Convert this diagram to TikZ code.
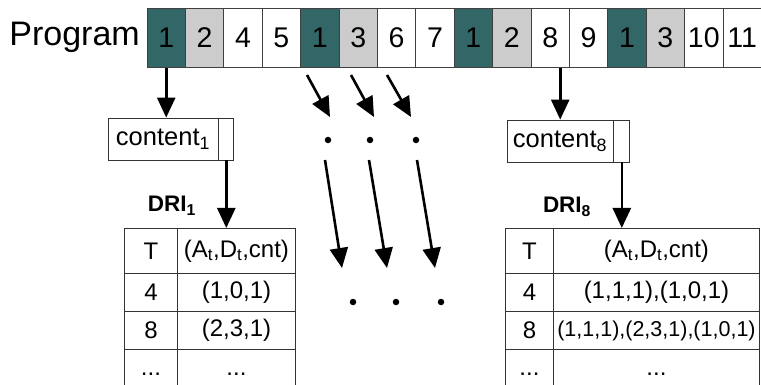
\documentclass[tikz,border=0pt]{standalone}
\usepackage{fontspec}
\setmainfont{Liberation Sans}
\usetikzlibrary{arrows.meta}
\definecolor{teal1}{RGB}{51,102,102}
\definecolor{lgray}{RGB}{204,204,204}
\begin{document}
\begin{tikzpicture}[x=1pt,y=-1pt,
 cell/.style={draw=black!75,line width=0.8pt,minimum width=38.4pt,minimum height=59.5pt,inner sep=0pt,font=\fontsize{28.5}{30}\selectfont},
 arr/.style={line width=2.6pt,-{Triangle[length=20pt,width=18pt]}},
 box/.style={draw=black!80,line width=0.8pt,inner sep=0pt,minimum height=42pt,font=\fontsize{25.5}{27}\selectfont},
 tcell/.style={draw=black!80,line width=0.9pt,inner sep=0pt,anchor=north west,font=\fontsize{24}{26}\selectfont},
 dri/.style={font=\bfseries\fontsize{22.5}{24}\selectfont},
 dot/.style={circle,fill=black,inner sep=0pt,minimum size=6.5pt}]
\useasboundingbox (0,0) rectangle (761,385);
% program bar
\node[font=\fontsize{34}{36}\selectfont,anchor=base east,inner sep=0pt] (prog) at (140,46) {Program};
\foreach \t/\c [count=\i] in {1/teal1,2/lgray,4/white,5/white,1/teal1,3/lgray,6/white,7/white,1/teal1,2/lgray,8/white,9/white,1/teal1,3/lgray,10/white,11/white}
  \node[cell,fill=\c] (c\i) at ({147+(\i-0.5)*38.4},37.75) {\t};
% content boxes
\node[box,minimum width=110pt] (cont1) at (163,139) {content\textsubscript{1}};
\node[box,minimum width=15pt,anchor=west] (cs1) at (cont1.east) {};
\node[box,minimum width=106pt] (cont8) at (560,141) {content\textsubscript{8}};
\node[box,minimum width=16pt,anchor=west] (cs8) at (cont8.east) {};
% DRI labels
\node[dri] (dri1) at (172,206) {DRI\textsubscript{1}};
\node[dri] (dri8) at (567,207) {DRI\textsubscript{8}};
% table 1
\node[tcell,minimum width=53pt,minimum height=45pt] (a11) at (124,228) {T};
\node[tcell,minimum width=118pt,minimum height=45pt] (a12) at (177,228) {(A\textsubscript{t},D\textsubscript{t},cnt)};
\node[tcell,minimum width=53pt,minimum height=38pt] (a21) at (124,273) {4};
\node[tcell,minimum width=118pt,minimum height=38pt] (a22) at (177,273) {(1,0,1)};
\node[tcell,minimum width=53pt,minimum height=38pt] (a31) at (124,311) {8};
\node[tcell,minimum width=118pt,minimum height=38pt] (a32) at (177,311) {(2,3,1)};
\node[tcell,minimum width=53pt,minimum height=50pt] (a41) at (124,349) {...};
\node[tcell,minimum width=118pt,minimum height=50pt] (a42) at (177,349) {...};
% table 8
\node[tcell,minimum width=48pt,minimum height=45pt] (b11) at (505,228) {T};
\node[tcell,minimum width=206pt,minimum height=45pt] (b12) at (553,228) {(A\textsubscript{t},D\textsubscript{t},cnt)};
\node[tcell,minimum width=48pt,minimum height=38pt] (b21) at (505,273) {4};
\node[tcell,minimum width=206pt,minimum height=38pt] (b22) at (553,273) {(1,1,1),(1,0,1)};
\node[tcell,minimum width=48pt,minimum height=38pt] (b31) at (505,311) {8};
\node[tcell,minimum width=206pt,minimum height=38pt,font=\fontsize{21.5}{24}\selectfont] (b32) at (553,311) {(1,1,1),(2,3,1),(1,0,1)};
\node[tcell,minimum width=48pt,minimum height=50pt] (b41) at (505,349) {...};
\node[tcell,minimum width=206pt,minimum height=50pt] (b42) at (553,349) {...};
% arrows to content and tables
\draw[arr] (c1.south) -- (c1.south |- cont1.north);
\draw[arr] ([xshift=10pt]c11.south) -- ([xshift=10pt]c11.south |- cont8.north);
\draw[arr] (cs1.south) -- (cs1.south |- a12.north);
\draw[arr] (cs8.south) -- (cs8.south |- b12.north);
% middle ellipsis arrows
\node[dot] (d1) at (328,140) {};
\node[dot] (d2) at (370,140) {};
\node[dot] (d3) at (416,140) {};
\node[dot] (e1) at (353,302) {};
\node[dot] (e2) at (396,302) {};
\node[dot] (e3) at (441,302) {};
\coordinate (s1) at (307,75); \coordinate (u1) at (330,117);
\coordinate (s2) at (351,75); \coordinate (u2) at (374,117);
\coordinate (s3) at (387,75); \coordinate (u3) at (411,117);
\coordinate (p1) at (325,160); \coordinate (q1) at (342,268);
\coordinate (p2) at (369,160); \coordinate (q2) at (387,268);
\coordinate (p3) at (417,160); \coordinate (q3) at (435,268);
\foreach \k in {1,2,3} {
  \draw[arr] (s\k) -- (u\k);
  \draw[arr] (p\k) -- (q\k);
}
\end{tikzpicture}
\end{document}
